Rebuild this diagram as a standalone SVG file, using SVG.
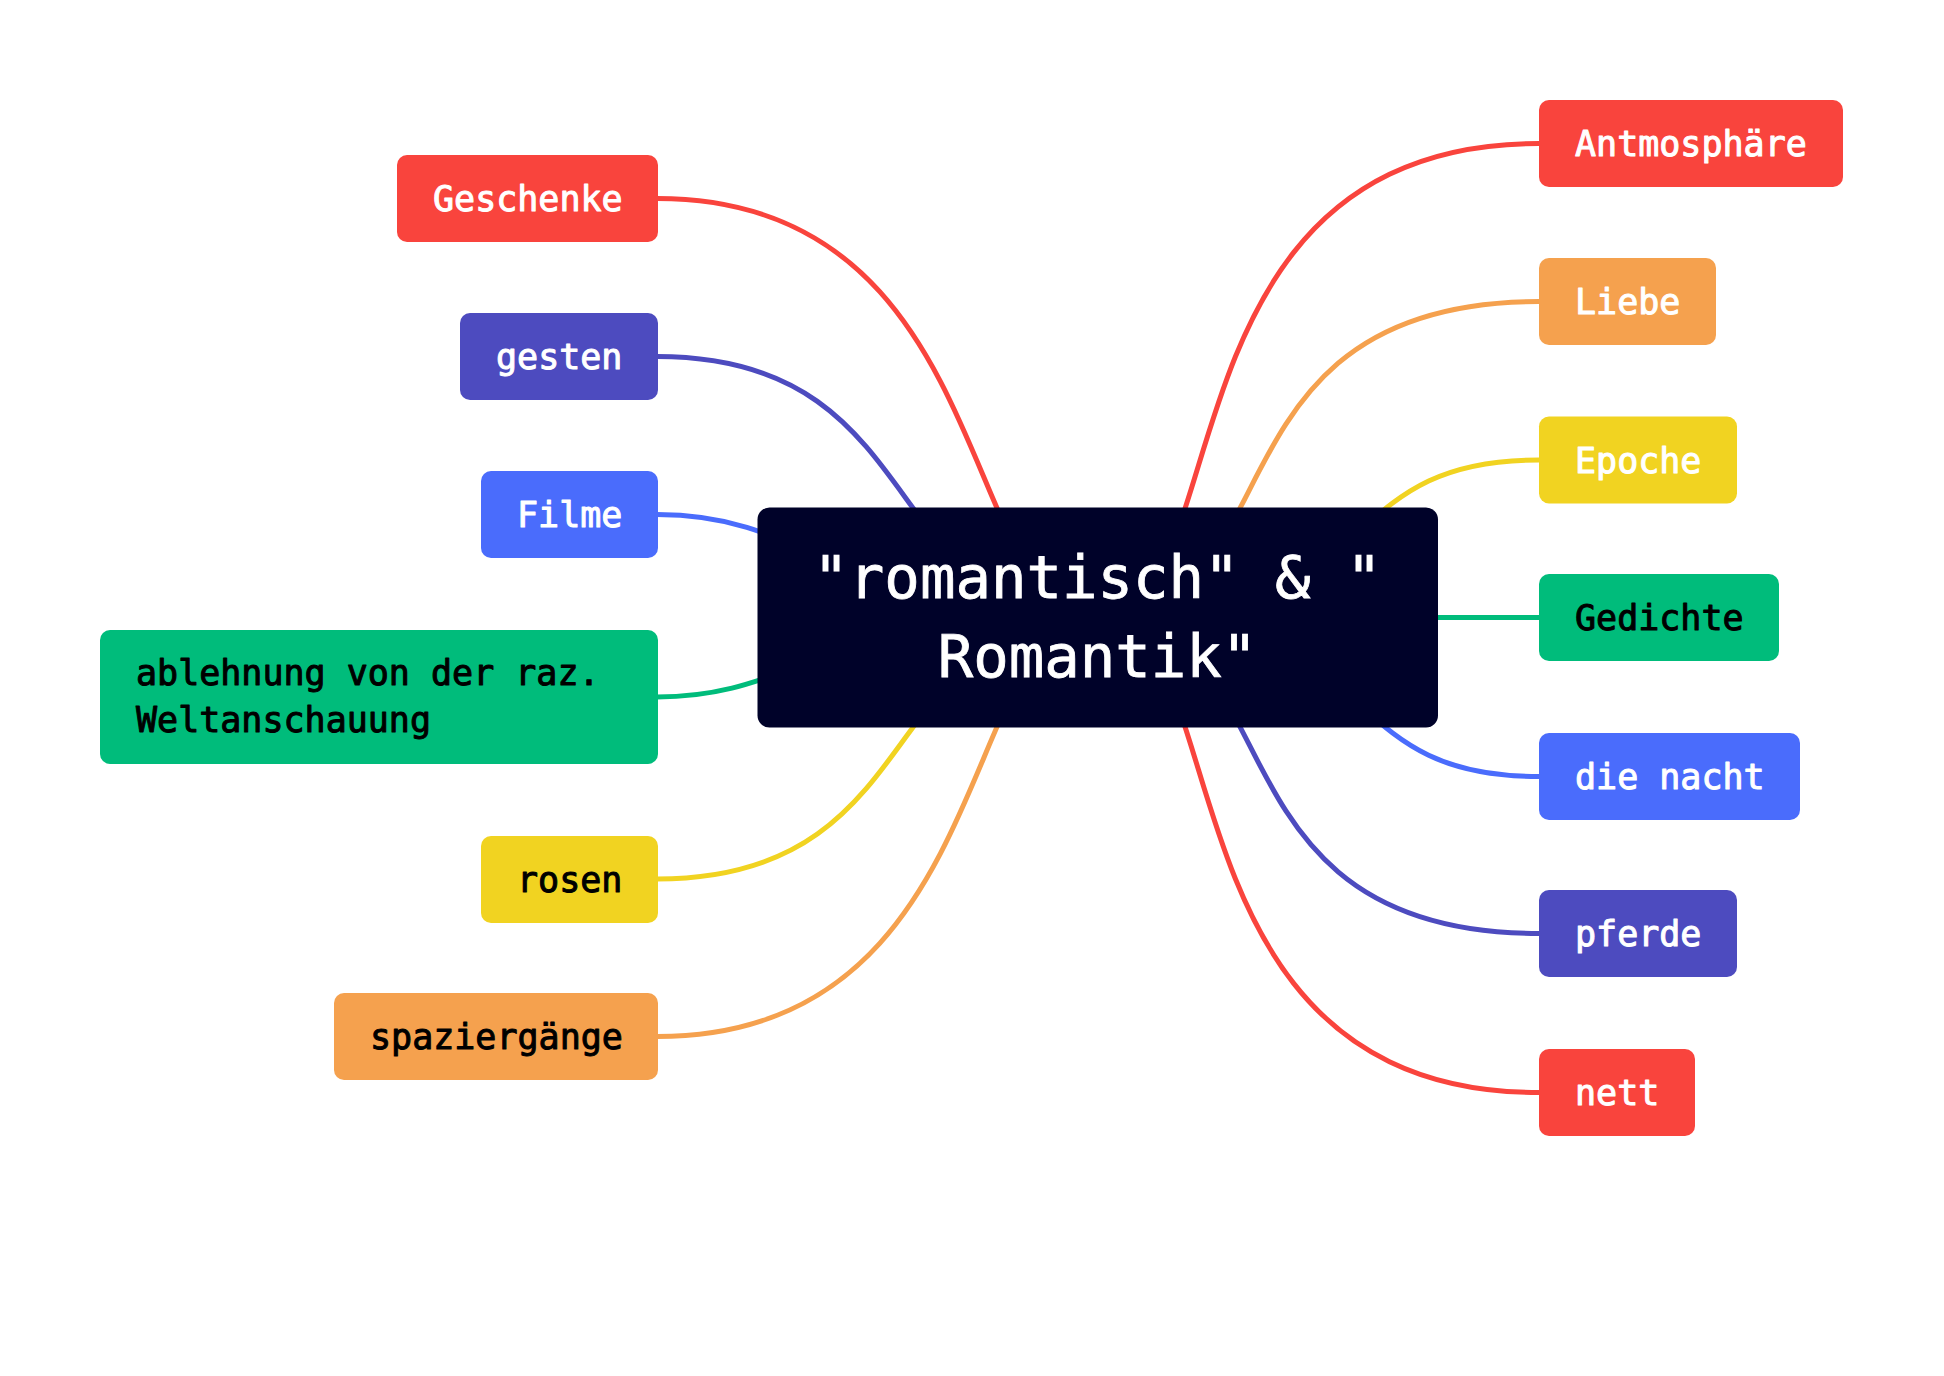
<svg xmlns="http://www.w3.org/2000/svg" width="1944" height="1376" viewBox="0 0 1944 1376">
<style>
.c{fill:none;stroke-width:5;stroke-linecap:round}
.t{font-family:"DejaVu Sans Mono","Liberation Mono",monospace;font-size:35px;stroke-width:1;stroke-linejoin:round}
.w{fill:#ffffff;stroke:#ffffff}.k{fill:#000000;stroke:#000000}
.red{fill:#F9443D}.ind{fill:#4D4BBF}.blu{fill:#4A6CFC}.grn{fill:#00BC7B}.yel{fill:#F1D321}.org{fill:#F5A14E}
.sred{stroke:#F9443D}.sind{stroke:#4D4BBF}.sblu{stroke:#4A6CFC}.sgrn{stroke:#00BC7B}.syel{stroke:#F1D321}.sorg{stroke:#F5A14E}
.rt{font-family:"DejaVu Sans Mono","Liberation Mono",monospace;font-size:59px;fill:#ffffff;stroke:#ffffff;stroke-width:0.8;text-anchor:middle}
</style>
<rect width="1944" height="1376" fill="#ffffff"/>
<g id="connectors">
<path class="c sred" d="M657 198.5 C1001 198.5 957 617.5 1097.5 617.5"/>
<path class="c sind" d="M657 356.5 C934 356.5 875 617.5 1097.5 617.5"/>
<path class="c sblu" d="M657 514.5 C818 514.5 837.5 617.5 1097.5 617.5"/>
<path class="c sgrn" d="M657 697 C797 697 817.5 617.5 1097.5 617.5"/>
<path class="c syel" d="M657 879 C934 879 875 617.5 1097.5 617.5"/>
<path class="c sorg" d="M657 1036.5 C1001 1036.5 957 617.5 1097.5 617.5"/>
<path class="c sred" d="M1539 143.5 C1149 143.5 1242 617.5 1097.5 617.5"/>
<path class="c sorg" d="M1539 301.5 C1197 301.5 1298 617.5 1097.5 617.5"/>
<path class="c syel" d="M1539 460 C1324 460 1397.5 617.5 1097.5 617.5"/>
<path class="c sgrn" d="M1539 617.5 L1097.5 617.5"/>
<path class="c sblu" d="M1539 776.5 C1324 776.5 1397.5 617.5 1097.5 617.5"/>
<path class="c sind" d="M1539 933.5 C1197 933.5 1298 617.5 1097.5 617.5"/>
<path class="c sred" d="M1539 1092.5 C1149 1092.5 1242 617.5 1097.5 617.5"/>
</g>
<g id="root">
<rect x="757.5" y="507.5" width="680.5" height="220" rx="12" fill="#000229"/>
<text class="rt" x="1097.5" y="598">"romantisch" &amp; "</text>
<text class="rt" x="1097.5" y="677">Romantik"</text>
</g>
<g id="n-geschenke"><rect class="red" x="397" y="155" width="261" height="87" rx="10"/><text class="t w" x="433" y="211">Geschenke</text></g>
<g id="n-gesten"><rect class="ind" x="460" y="313" width="198" height="87" rx="10"/><text class="t w" x="496" y="369">gesten</text></g>
<g id="n-filme"><rect class="blu" x="481" y="471" width="177" height="87" rx="10"/><text class="t w" x="517" y="527">Filme</text></g>
<g id="n-ablehnung"><rect class="grn" x="100" y="630" width="558" height="134" rx="10"/><text class="t k" x="136" y="685">ablehnung von der raz.</text><text class="t k" x="136" y="732">Weltanschauung</text></g>
<g id="n-rosen"><rect class="yel" x="481" y="836" width="177" height="87" rx="10"/><text class="t k" x="517" y="892">rosen</text></g>
<g id="n-spaziergaenge"><rect class="org" x="334" y="993" width="324" height="87" rx="10"/><text class="t k" x="370" y="1049">spaziergänge</text></g>
<g id="n-antmosphaere"><rect class="red" x="1539" y="100" width="304" height="87" rx="10"/><text class="t w" x="1575" y="156">Antmosphäre</text></g>
<g id="n-liebe"><rect class="org" x="1539" y="258" width="177" height="87" rx="10"/><text class="t w" x="1575" y="314">Liebe</text></g>
<g id="n-epoche"><rect class="yel" x="1539" y="416.5" width="198" height="87" rx="10"/><text class="t w" x="1575" y="472.5">Epoche</text></g>
<g id="n-gedichte"><rect class="grn" x="1539" y="574" width="240" height="87" rx="10"/><text class="t k" x="1575" y="630">Gedichte</text></g>
<g id="n-die-nacht"><rect class="blu" x="1539" y="733" width="261" height="87" rx="10"/><text class="t w" x="1575" y="789">die nacht</text></g>
<g id="n-pferde"><rect class="ind" x="1539" y="890" width="198" height="87" rx="10"/><text class="t w" x="1575" y="946">pferde</text></g>
<g id="n-nett"><rect class="red" x="1539" y="1049" width="156" height="87" rx="10"/><text class="t w" x="1575" y="1105">nett</text></g>
</svg>
